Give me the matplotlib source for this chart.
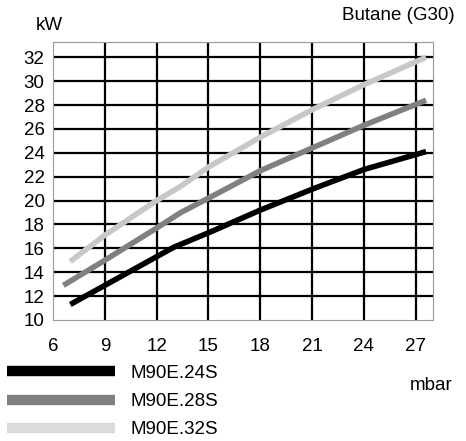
import matplotlib
matplotlib.use("Agg")
import matplotlib.pyplot as plt
from matplotlib.lines import Line2D

plt.rcParams['font.family'] = ['Liberation Sans', 'DejaVu Sans']

series_names = ["M90E.24S", "M90E.28S", "M90E.32S"]
x_24 = [7.0, 9, 12, 13.0, 15, 18, 21, 24, 27.6]
y_24 = [11.3, 12.9, 15.3, 16.1, 17.3, 19.2, 20.95, 22.6, 24.1]
x_28 = [6.6, 9, 12, 13.4, 15, 18, 21, 24, 27.6]
y_28 = [12.9, 15.0, 17.7, 19.0, 20.2, 22.5, 24.4, 26.3, 28.4]
x_32 = [7.0, 9, 12, 13.4, 15, 18, 21, 24, 27.6]
y_32 = [14.9, 17.1, 20.0, 21.2, 22.8, 25.3, 27.6, 29.7, 32.0]
x_ticks = [6, 9, 12, 15, 18, 21, 24, 27]
y_ticks = [10, 12, 14, 16, 18, 20, 22, 24, 26, 28, 30, 32]

line_colors = ["#000000", "#808080", "#c8c8c8"]
legend_colors = ["#000000", "#808080", "#dcdcdc"]

FS = 13.5

fig = plt.figure(figsize=(4.66, 4.41), dpi=100)
ax = fig.add_axes([53/466, 1-320/441, 380/466, (320-41.7)/441])

for xs, ys, c in zip([x_24, x_28, x_32], [y_24, y_28, y_32], line_colors):
    ax.plot(xs, ys, color=c, lw=4.0, solid_capstyle='butt', zorder=3)

ax.set_xlim(6, 28)
ax.set_ylim(10, 33.3)
ax.set_xticks(x_ticks)
ax.set_yticks(y_ticks)
for v in x_ticks[1:]:
    ax.axvline(v, color='black', lw=1.6, zorder=1)
for v in y_ticks[1:]:
    ax.axhline(v, color='black', lw=1.6, zorder=1)
ax.tick_params(axis='both', length=0, labelsize=FS)
ax.tick_params(axis='x', pad=13)
ax.tick_params(axis='y', pad=6)
for s in ax.spines.values():
    s.set_color('#999999')
    s.set_linewidth(0.8)

fig.text(49/466, 1-26/441, "kW", ha='center', va='center', fontsize=FS)
fig.text(455/466, 1-15/441, "Butane (G30)", ha='right', va='center', fontsize=FS)
fig.text(453/466, 1-385/441, "mbar", ha='right', va='center', fontsize=FS)

handles = [Line2D([0], [0], color=c, lw=7.5, solid_capstyle='butt') for c in legend_colors]
fig.legend(handles, series_names, loc='upper left', bbox_to_anchor=(1.4/466, 1-359/441),
           frameon=False, fontsize=FS, handlelength=5.76, handletextpad=0.8,
           labelspacing=0.6, borderpad=0.3, borderaxespad=0)

fig.savefig("out.png", dpi=100)
